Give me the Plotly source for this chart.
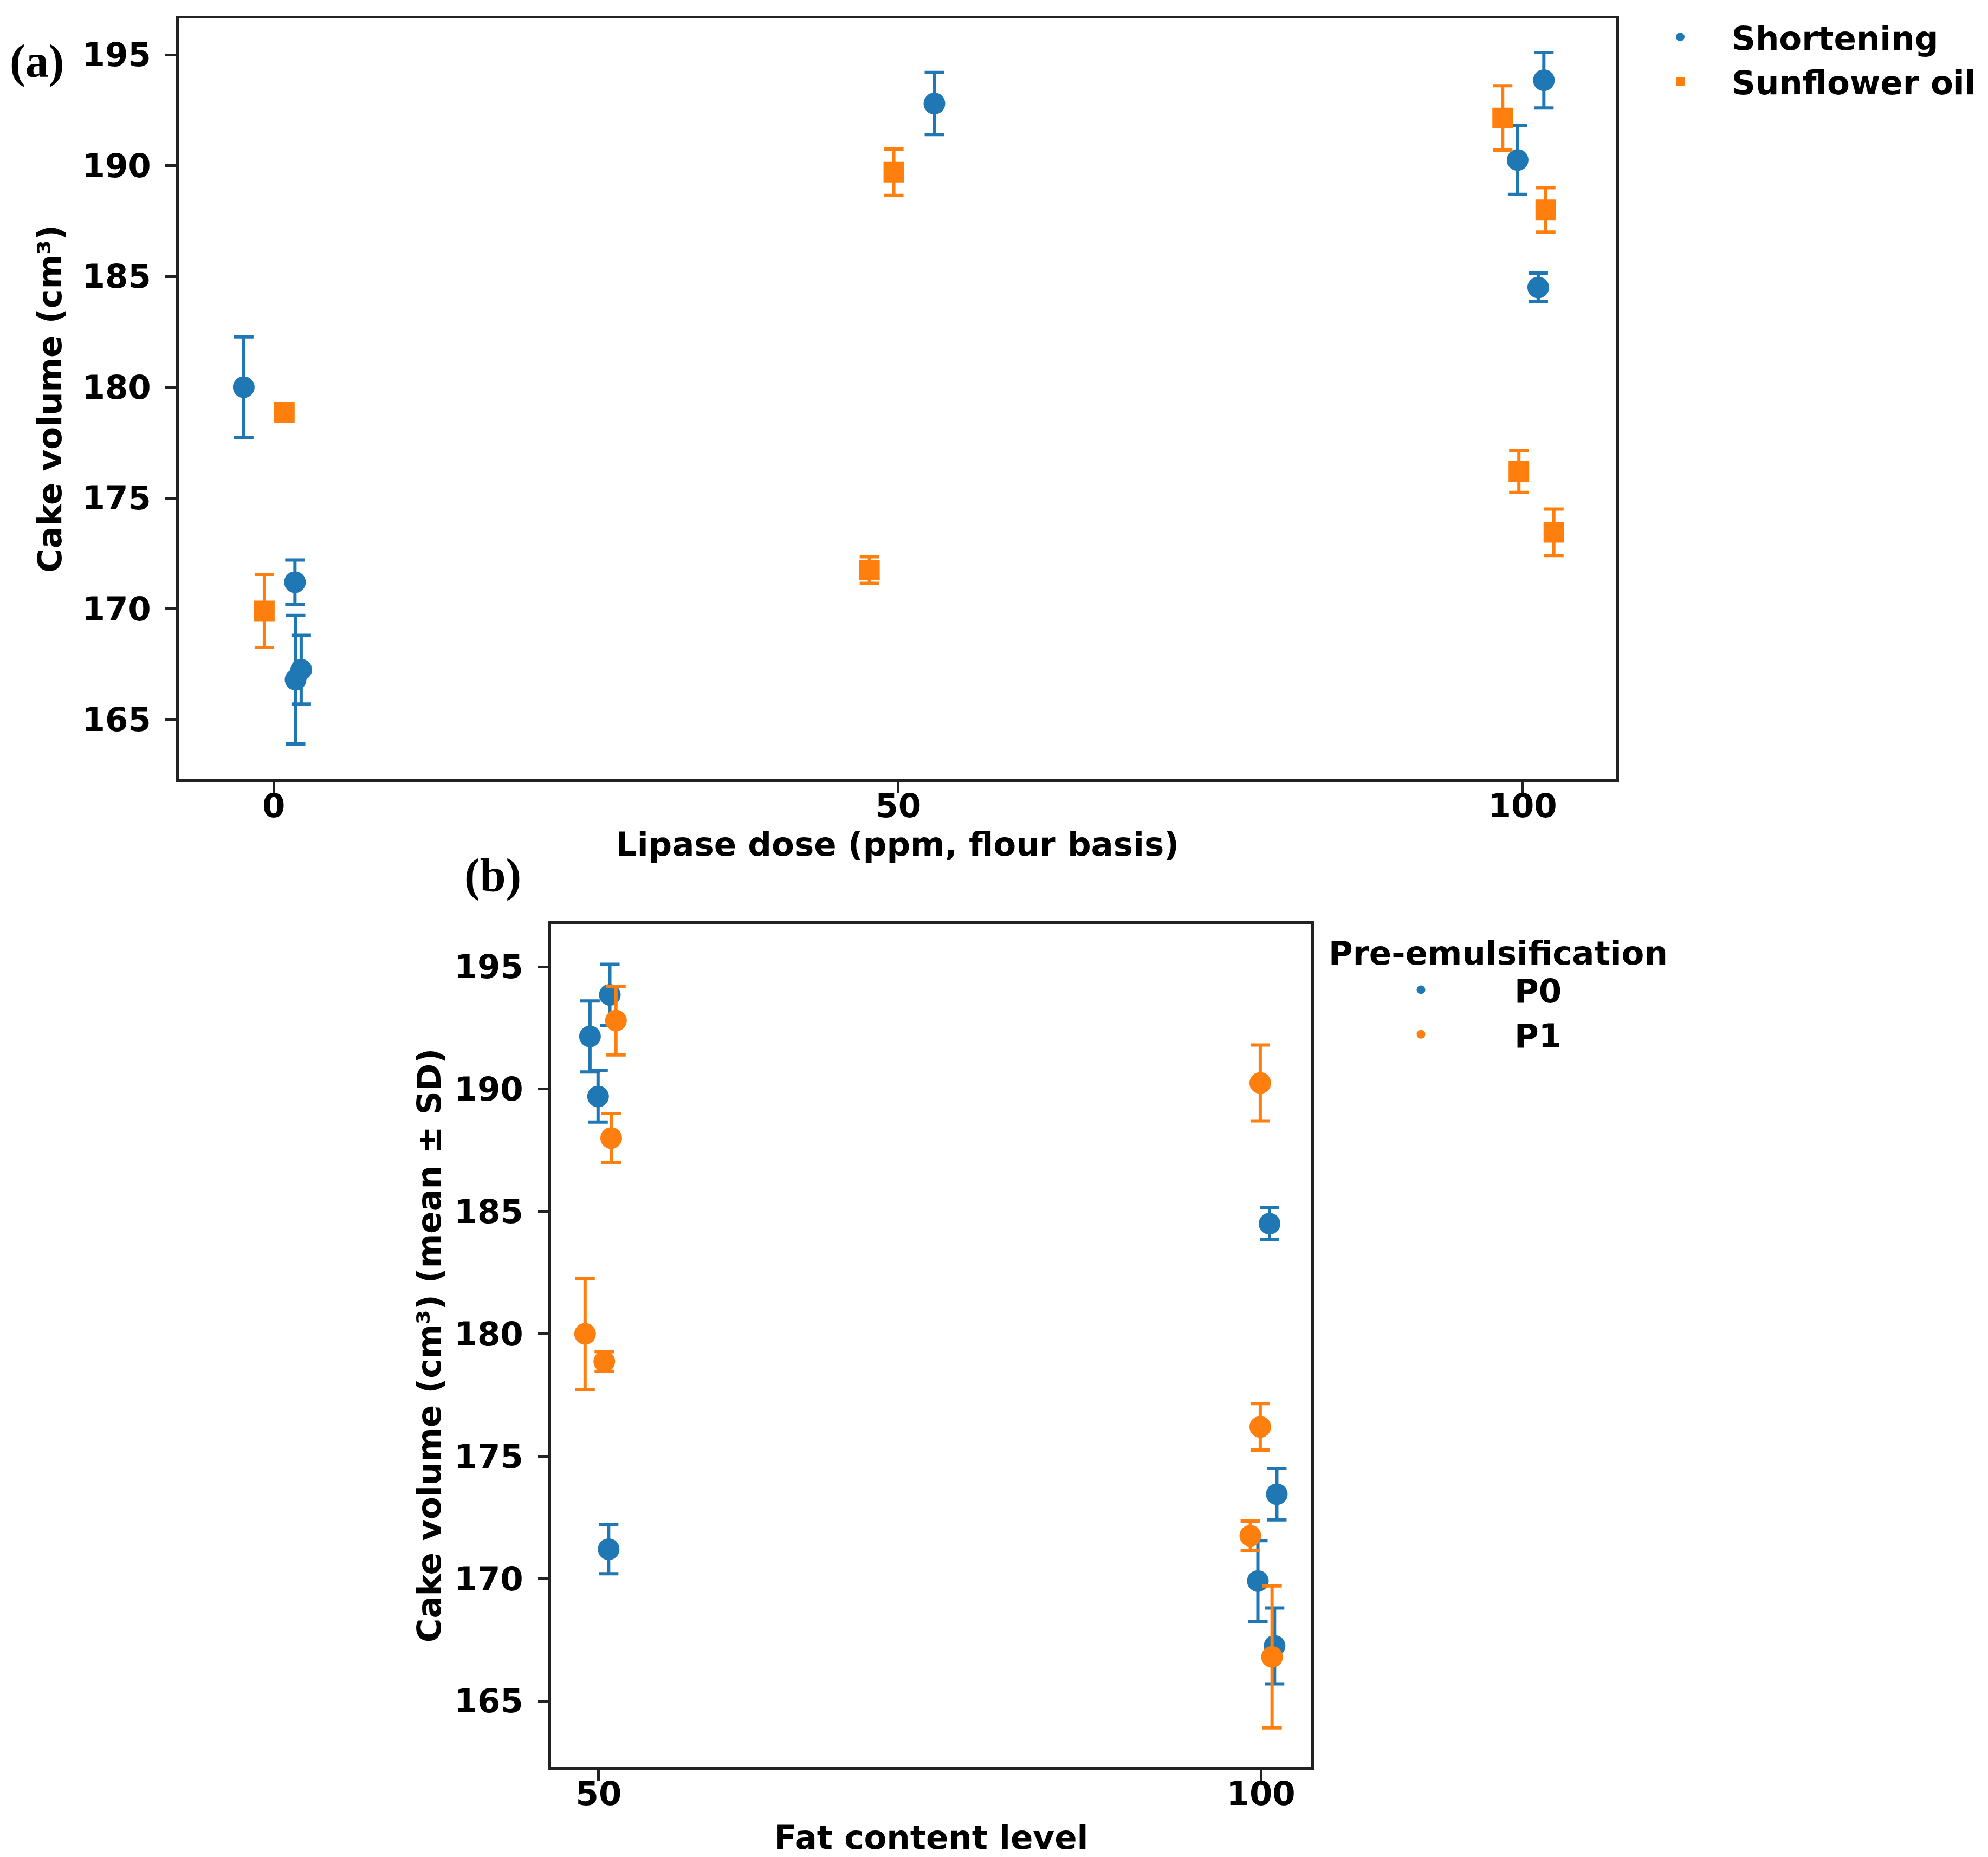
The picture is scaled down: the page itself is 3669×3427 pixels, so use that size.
import plotly.graph_objects as go

# ── Panel (a): cake volume vs lipase dose (jittered x) ───────────────────────
short_dose = [-2.4, 1.7, 1.75, 2.2, 52.9, 99.6, 101.25, 101.7]
short_vol  = [180.0, 171.2, 166.8, 167.25, 192.8, 190.25, 184.5, 193.85]
short_sd   = [2.27, 1.0, 2.9, 1.55, 1.4, 1.55, 0.65, 1.25]

oil_dose = [-0.75, 0.85, 47.7, 49.65, 98.4, 99.7, 101.85, 102.5]
oil_vol  = [169.9, 178.87, 171.75, 189.7, 192.15, 176.2, 188.0, 173.45]
oil_sd   = [1.65, 0.4, 0.6, 1.05, 1.45, 0.95, 1.0, 1.05]

# ── Panel (b): cake volume vs fat content level, by pre-emulsification ───────
p0_fat = [49.34, 49.95, 50.84, 50.75, 100.65, 101.2, 99.77, 101.03]
p0_vol = [192.15, 189.7, 193.85, 171.2, 184.5, 173.45, 169.9, 167.25]
p0_sd  = [1.45, 1.05, 1.25, 1.0, 0.65, 1.05, 1.65, 1.55]

p1_fat = [51.3, 50.94, 48.97, 50.42, 99.95, 99.95, 99.2, 100.84]
p1_vol = [192.8, 188.0, 180.0, 178.87, 190.25, 176.2, 171.75, 166.8]
p1_sd  = [1.4, 1.0, 2.27, 0.4, 1.55, 0.95, 0.6, 2.9]

dose_ticks = [0, 50, 100]
fat_ticks  = [50, 100]
vol_ticks  = [165, 170, 175, 180, 185, 190, 195]

# ── Style ────────────────────────────────────────────────────────────────────
W, H = 3669, 3427
BLUE, ORANGE = '#1f77b4', '#ff7f0e'
FONT = dict(family='DejaVu Sans', size=61, color='black', weight='bold')


def err(sd, color):
    return dict(type='data', array=sd, visible=True, color=color,
                thickness=6, width=18)


fig = go.Figure()

fig.add_trace(go.Scatter(
    x=short_dose, y=short_vol, mode='markers', name='Shortening',
    marker=dict(color=BLUE, size=40, symbol='circle'),
    error_y=err(short_sd, BLUE), xaxis='x', yaxis='y',
    legend='legend', legendgroup='a1',
))
fig.add_trace(go.Scatter(
    x=oil_dose, y=oil_vol, mode='markers', name='Sunflower oil',
    marker=dict(color=ORANGE, size=38, symbol='square'),
    error_y=err(oil_sd, ORANGE), xaxis='x', yaxis='y',
    legend='legend', legendgroup='a2',
))
fig.add_trace(go.Scatter(
    x=p0_fat, y=p0_vol, mode='markers', name='P0',
    marker=dict(color=BLUE, size=40, symbol='circle'),
    error_y=err(p0_sd, BLUE), xaxis='x2', yaxis='y2',
    legend='legend2', legendgroup='b1',
))
fig.add_trace(go.Scatter(
    x=p1_fat, y=p1_vol, mode='markers', name='P1',
    marker=dict(color=ORANGE, size=40, symbol='circle'),
    error_y=err(p1_sd, ORANGE), xaxis='x2', yaxis='y2',
    legend='legend2', legendgroup='b2',
))

axis_common = dict(
    showline=True, mirror=True, linewidth=5, linecolor='#222222',
    ticks='outside', ticklen=20, tickwidth=5, tickcolor='#222222',
    showgrid=False, zeroline=False, tickfont=FONT, automargin=False,
)

fig.update_layout(
    width=W, height=H,
    margin=dict(l=0, r=0, t=0, b=0),
    paper_bgcolor='white', plot_bgcolor='white',
    font=FONT,
    xaxis=dict(axis_common, domain=[322 / W, 2975 / W], range=[-7.6, 107.5],
               tickvals=dose_ticks, anchor='y', ticklabelstandoff=-28,
               title=dict(text='Lipase dose (ppm, flour basis)', font=FONT, standoff=9)),
    yaxis=dict(axis_common, domain=[1 - 1430 / H, 1 - 26 / H], range=[162.31, 196.64],
               tickvals=vol_ticks, anchor='x', ticklabelstandoff=14,
               title=dict(text='Cake volume (cm³)', font=FONT, standoff=20)),
    xaxis2=dict(axis_common, domain=[1009 / W, 2412 / W], range=[46.4, 103.8],
                tickvals=fat_ticks, anchor='y2', ticklabelstandoff=-28,
                title=dict(text='Fat content level', font=FONT, standoff=27)),
    yaxis2=dict(axis_common, domain=[1 - 3253 / H, 1 - 1697 / H], range=[162.3, 196.75],
                tickvals=vol_ticks, anchor='x2', ticklabelstandoff=14,
                title=dict(text='Cake volume (cm³) (mean ± SD)', font=FONT, standoff=7)),
    legend=dict(x=2998 / W, xanchor='left', y=1 - 14 / H, yanchor='top',
                font=FONT, itemwidth=180, tracegroupgap=0,
                bgcolor='rgba(0,0,0,0)'),
    legend2=dict(x=2442 / W, xanchor='left', y=1 - 1693 / H, yanchor='top',
                 font=FONT, itemwidth=335, tracegroupgap=0,
                 title=dict(text='Pre-emulsification', font=FONT, side='top'),
                 bgcolor='rgba(0,0,0,0)'),
    annotations=[
        dict(text='(a)', x=60 / W, y=1 - 105 / H, xref='paper', yref='paper',
             showarrow=False, xanchor='center', yanchor='middle',
             font=dict(family='Liberation Serif', size=86, color='black', weight='bold')),
        dict(text='(b)', x=901 / W, y=1 - 1607 / H, xref='paper', yref='paper',
             showarrow=False, xanchor='center', yanchor='middle',
             font=dict(family='Liberation Serif', size=86, color='black', weight='bold')),
    ],
)

fig.write_html('out.html')
